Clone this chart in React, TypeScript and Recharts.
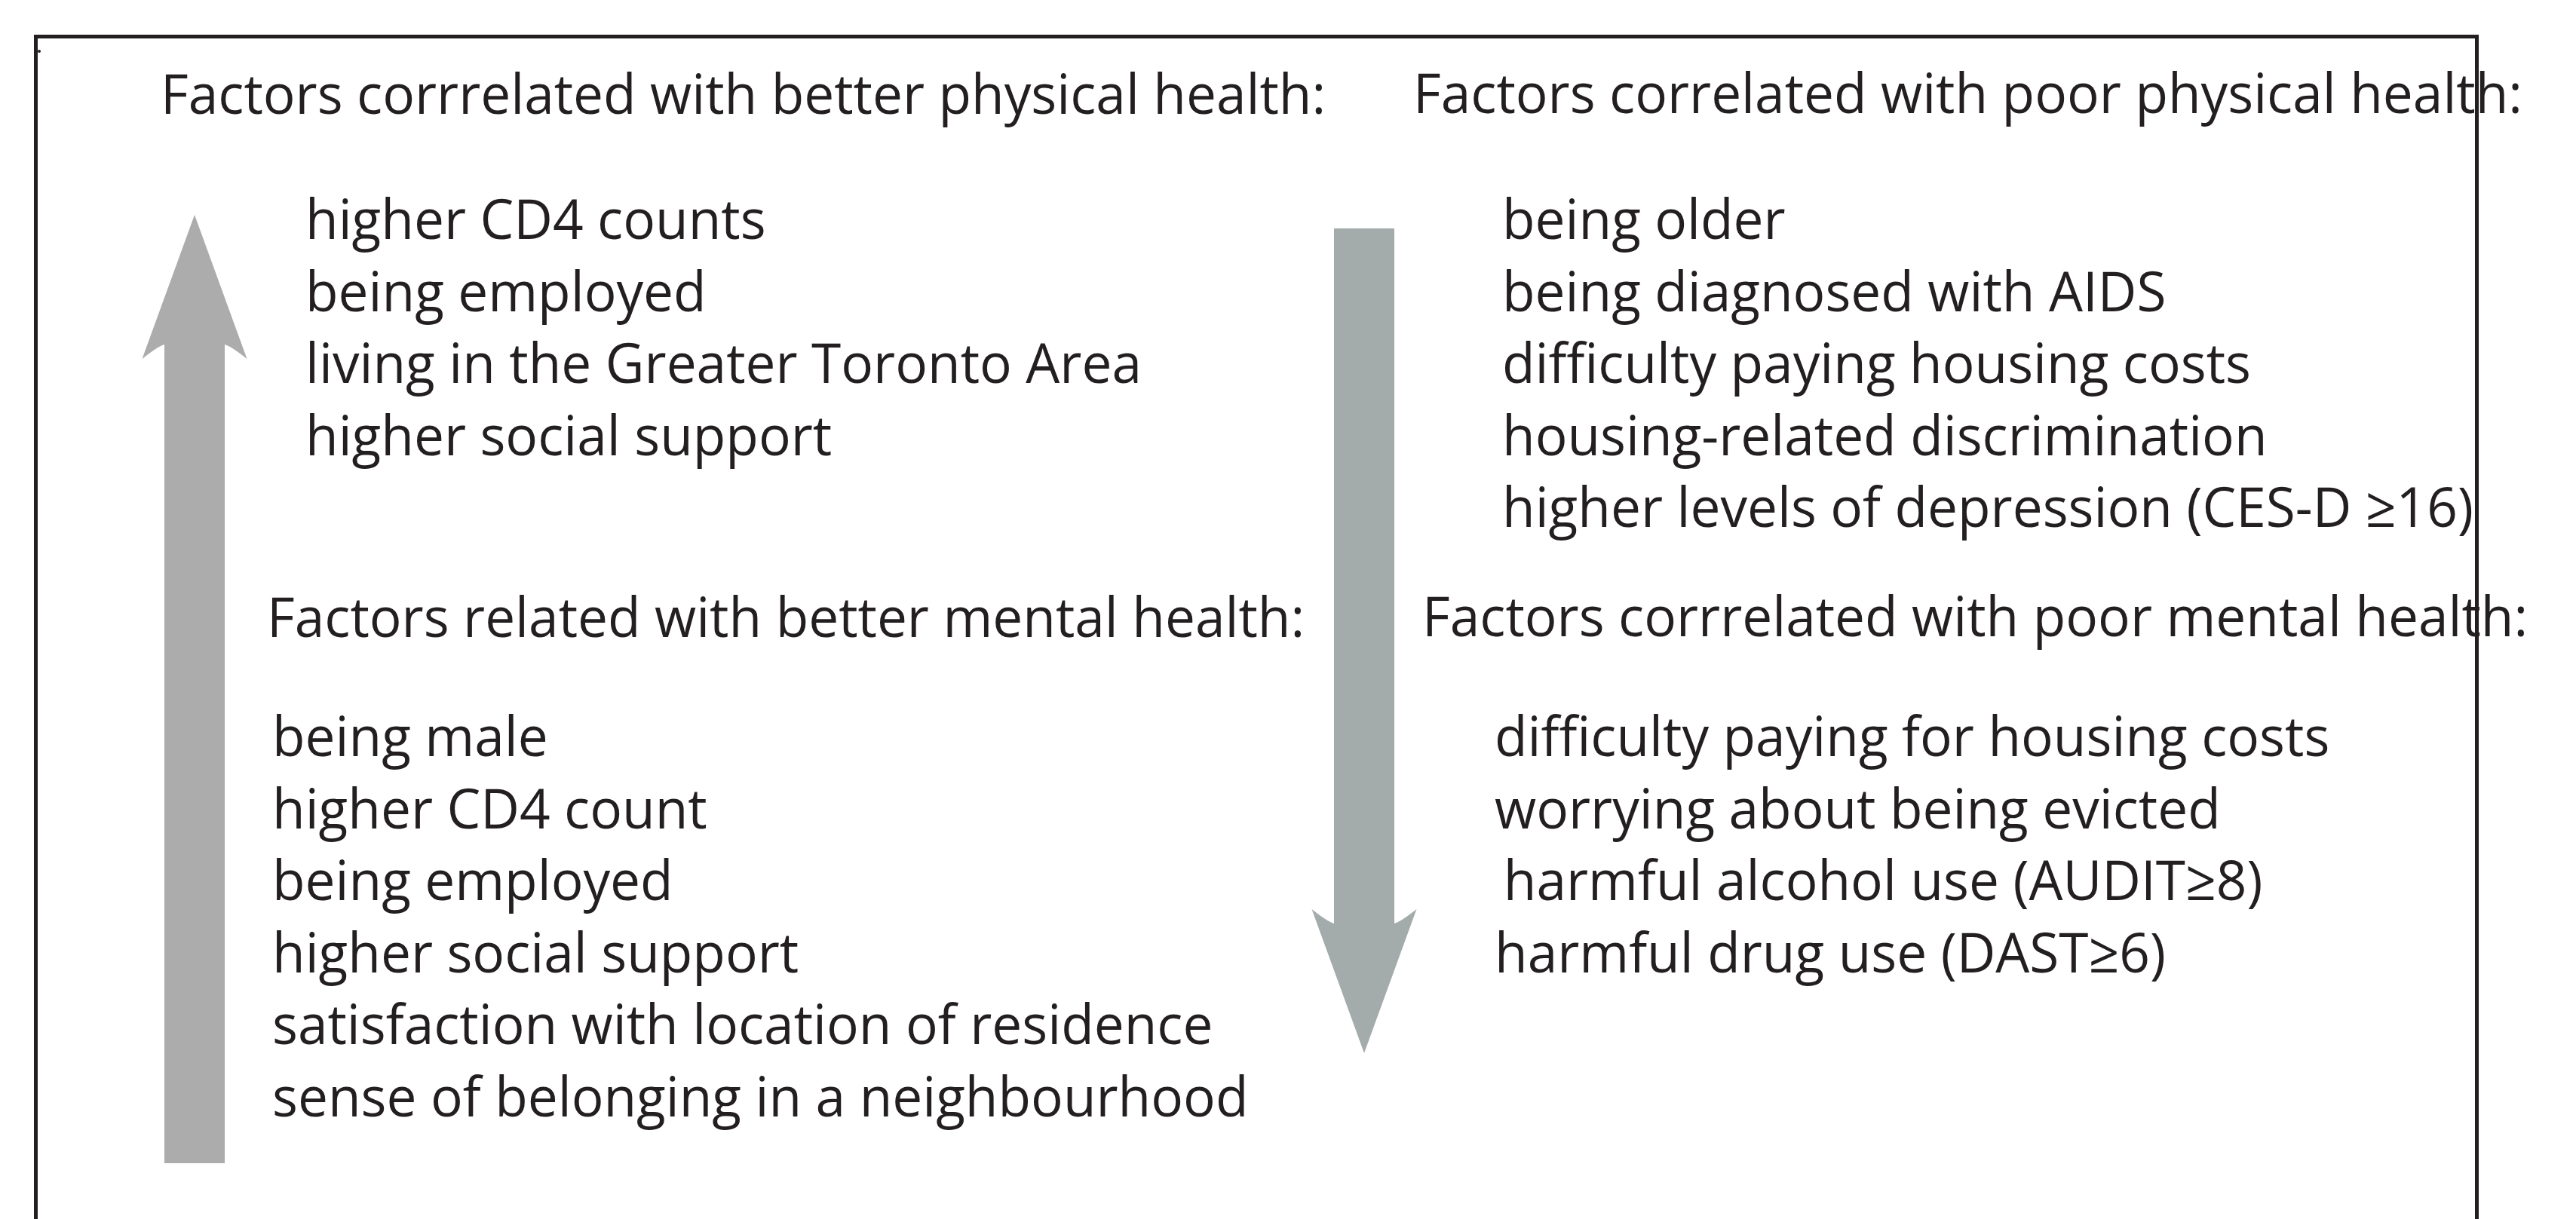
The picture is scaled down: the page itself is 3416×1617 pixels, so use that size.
import React from 'react';
import {
  ScatterChart,
  Scatter,
  XAxis,
  YAxis,
  ReferenceArea,
  ReferenceDot,
} from 'recharts';

const W = 3416;
const H = 1617;

// Headings of the four blocks
const headingBetterPhysical = 'Factors corrrelated with better physical health:';
const headingPoorPhysical = 'Factors correlated with poor physical health:';
const headingBetterMental = 'Factors related with better mental health:';
const headingPoorMental = 'Factors corrrelated with poor mental health:';

// Factor lists
const betterPhysical = [
  'higher CD4 counts',
  'being employed',
  'living in the Greater Toronto Area',
  'higher social support',
];
const poorPhysical = [
  'being older',
  'being diagnosed with AIDS',
  'difficulty paying housing costs',
  'housing-related discrimination',
  'higher levels of depression (CES-D \u226516)',
];
const betterMental = [
  'being male',
  'higher CD4 count',
  'being employed',
  'higher social support',
  'satisfaction with location of residence',
  'sense of belonging in a neighbourhood',
];
const poorMental = [
  'difficulty paying for housing costs',
  'worrying about being evicted',
  '\u2009harmful alcohol use (AUDIT\u22658)',
  'harmful drug use (DAST\u22656)',
];

// Layout (in the chart's own coordinate space, mapped by the axes)
const LINE_GAP = 95.5;
const INK = '#231f20';
const FONT = "'Open Sans', 'Noto Sans', sans-serif";
const FONT_SIZE = 74;
const SQUEEZE = 0.962;

type TextPoint = { x: number; y: number; label: string };

const block = (items: string[], x: number, y0: number): TextPoint[] =>
  items.map((label, i) => ({ x, y: y0 + i * LINE_GAP, label }));

const textPoints: TextPoint[] = [
  { x: 213, y: 151, label: headingBetterPhysical },
  { x: 1874, y: 150, label: headingPoorPhysical },
  { x: 354, y: 845, label: headingBetterMental },
  { x: 1886, y: 844, label: headingPoorMental },
  ...block(betterPhysical, 405, 317),
  ...block(poorPhysical, 1992, 317),
  ...block(betterMental, 361, 1003),
  ...block(poorMental, 1982, 1003),
];

const TextShape = (props: any) => {
  const { cx, cy, payload } = props;
  return (
    <text
      transform={`translate(${cx} ${cy}) scale(${SQUEEZE} 1)`}
      x={0}
      y={0}
      fill={INK}
      fontFamily={FONT}
      fontSize={FONT_SIZE}
    >
      {payload.label}
    </text>
  );
};

// block arrows: shaft 80 wide, head 139 wide and 191 long, barbed wings
const SHAFT = 80;
const HEAD_LEN = 191;
const BARB = 19;

const makeArrow = (dir: 'up' | 'down', color: string) => (props: any) => {
  const { x, y, width, height } = props;
  const cx = x + width / 2;
  const hw = width / 2;
  const sw = SHAFT / 2;
  let d: string;
  if (dir === 'up') {
    const tip = y;
    const wing = y + HEAD_LEN;
    const inner = wing - BARB;
    const tail = y + height;
    d = `M${cx} ${tip} L${cx + hw} ${wing} Q${cx + sw + 8} ${inner + 2} ${cx + sw} ${inner}
      L${cx + sw} ${tail} L${cx - sw} ${tail} L${cx - sw} ${inner}
      Q${cx - sw - 8} ${inner + 2} ${cx - hw} ${wing} Z`;
  } else {
    const tip = y + height;
    const wing = tip - HEAD_LEN;
    const inner = wing + BARB;
    const tail = y;
    d = `M${cx} ${tip} L${cx + hw} ${wing} Q${cx + sw + 8} ${inner - 2} ${cx + sw} ${inner}
      L${cx + sw} ${tail} L${cx - sw} ${tail} L${cx - sw} ${inner}
      Q${cx - sw - 8} ${inner - 2} ${cx - hw} ${wing} Z`;
  }
  return <path d={d} fill={color} stroke="none" />;
};

const UpArrow = makeArrow('up', '#acacac');
const DownArrow = makeArrow('down', '#a3abab');

const App: React.FC = () => {
  return (
    <div
      style={{
        position: 'absolute',
        left: 0,
        top: 0,
        width: W,
        height: H,
        background: '#ffffff',
        overflow: 'hidden',
      }}
    >
      <ScatterChart
        width={W}
        height={H}
        margin={{ top: 0, right: 0, bottom: 0, left: 0 }}
      >
        <XAxis type="number" dataKey="x" domain={[0, W]} hide allowDataOverflow />
        <YAxis type="number" dataKey="y" domain={[0, H]} reversed hide allowDataOverflow />

        {/* outer frame, its bottom edge lies below the picture */}
        <ReferenceArea
          x1={47.5}
          x2={3284.5}
          y1={48.5}
          y2={H + 40}
          ifOverflow="hidden"
          fill="none"
          fillOpacity={0}
          stroke={INK}
          strokeWidth={5}
        />
        <ReferenceDot x={52} y={68} r={2} fill={INK} stroke="none" />

        {/* better health: arrow up */}
        <ReferenceArea
          x1={258 - 69.5}
          x2={258 + 69.5}
          y1={285}
          y2={1543}
          ifOverflow="visible"
          shape={UpArrow}
        />
        {/* poor health: arrow down */}
        <ReferenceArea
          x1={1809 - 69.5}
          x2={1809 + 69.5}
          y1={303}
          y2={1397}
          ifOverflow="visible"
          shape={DownArrow}
        />

        <Scatter data={textPoints} shape={TextShape} isAnimationActive={false} />
      </ScatterChart>
    </div>
  );
};

export default App;
